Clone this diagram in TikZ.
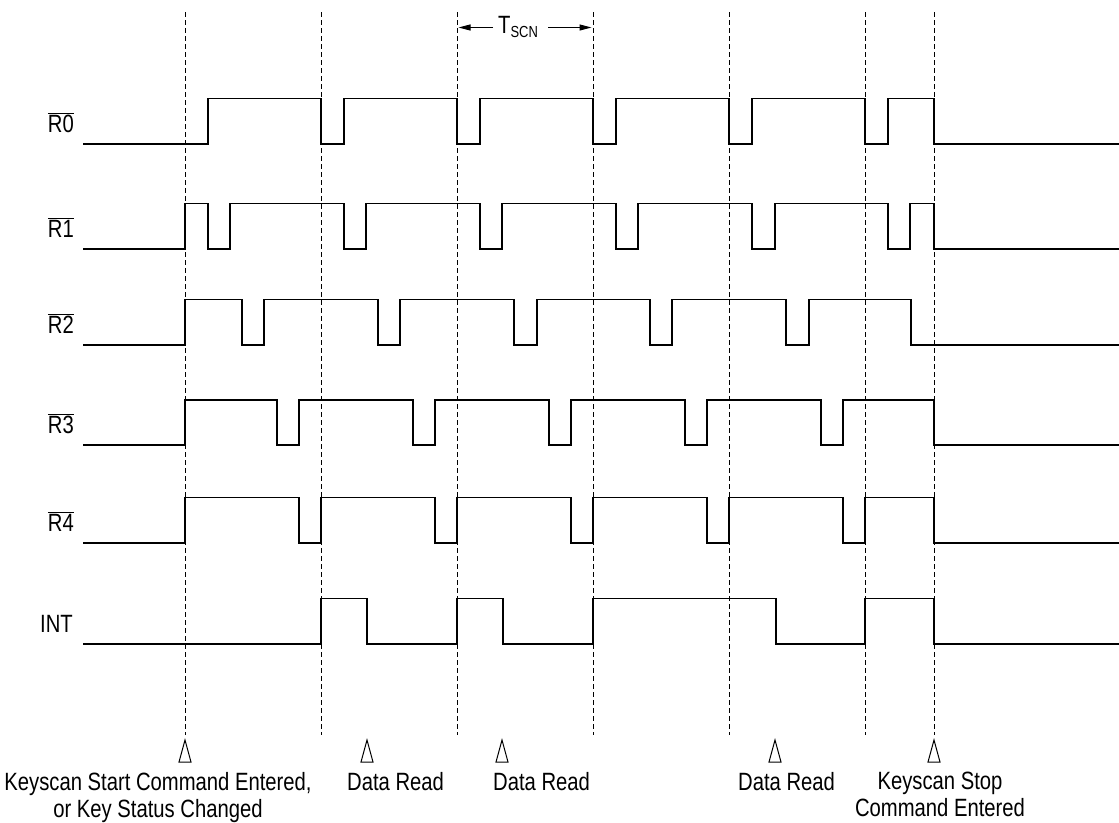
\documentclass[tikz,border=0pt]{standalone}
\usepackage{fontspec}
\setmainfont{Liberation Sans}[FakeStretch=0.81]
\usetikzlibrary{arrows.meta}
\newcommand{\barsig}[1]{$\overline{\mbox{#1}}$}
\begin{document}
\begin{tikzpicture}[x=1pt,y=-1pt,
  sig/.style={line width=1.4pt, line join=miter},
  guide/.style={line width=0.9pt, dash pattern=on 4.5pt off 3.5pt},
  lbl/.style={font=\fontsize{25}{27}\selectfont, inner sep=0pt},
  tri/.style={line width=1pt, line join=miter},
  tarrow/.style={line width=1pt, -{Triangle[length=12pt,width=6pt]}}
]
\useasboundingbox (0,0) rectangle (1119,822);

% guide lines
\foreach \x in {185,321,457,593,729,865,934}
  \draw[guide] (\x,12) -- (\x,735);

% T_SCN
\coordinate (tl) at (458.5,27.5);
\coordinate (tr) at (591.5,27.5);
\node[lbl, anchor=base west, inner xsep=5pt] (tscn) at (493,33)
  {T\raisebox{-4pt}{\fontsize{16}{16}\selectfont SCN}\hspace*{5pt}};
\draw[tarrow] (tscn.west |- tl) -- (tl);
\draw[tarrow] (tscn.east |- tr) -- (tr);

% signal labels
\node[lbl, anchor=base east] (lr0) at (74,132) {\barsig{R0}};
\node[lbl, anchor=base east] (lr1) at (74,237) {\barsig{R1}};
\node[lbl, anchor=base east] (lr2) at (74,333) {\barsig{R2}};
\node[lbl, anchor=base east] (lr3) at (74,433) {\barsig{R3}};
\node[lbl, anchor=base east] (lr4) at (74,531) {\barsig{R4}};
\node[lbl, anchor=base east] (lint) at (73,632) {INT};

% R0
\draw[sig] (83,144) -| (208,98.5) -| (321,144) -| (344,98.5) -| (457,144) -| (480,98.5)
  -| (593,144) -| (616,98.5) -| (729,144) -| (752,98.5) -| (865,144) -| (888,98.5)
  -| (934,144) -- (1119,144);
% R1
\draw[sig] (83,249) -| (185,203.5) -| (208,249) -| (230,203.5) -| (344,249) -| (366,203.5)
  -| (480,249) -| (502,203.5) -| (616,249) -| (638,203.5) -| (752,249) -| (775,203.5)
  -| (888,249) -| (910,203.5) -| (934,249) -- (1119,249);
% R2
\draw[sig] (83,345) -| (185,299.5) -| (242,345) -| (264,299.5) -| (378,345) -| (400,299.5)
  -| (514,345) -| (537,299.5) -| (650,345) -| (672,299.5) -| (786,345) -| (809,299.5)
  -| (911,345) -- (1119,345);
% R3
\draw[sig] (83,445) -| (185,400) -| (277,445) -| (299,400) -| (413,445) -| (435,400)
  -| (549,445) -| (571,400) -| (685,445) -| (707,400) -| (821,445) -| (843,400)
  -| (934,445) -- (1119,445);
% R4
\draw[sig] (83,543) -| (185,497.5) -| (299,543) -| (321,497.5) -| (435,543) -| (457,497.5)
  -| (571,543) -| (593,497.5) -| (707,543) -| (729,497.5) -| (843,543) -| (865,497.5)
  -| (934,543) -- (1119,543);
% INT
\draw[sig] (83,644) -| (321,598.5) -| (367,644) -| (457,598.5) -| (503,644) -| (593,598.5)
  -| (776,644) -| (865,598.5) -| (934,644) -- (1119,644);

% event markers
\foreach \x in {185,367,502,775,934}
  \draw[tri] (\x,740) -- ++(-6,22) -- ++(12,0) -- cycle;

% event labels
\node[lbl, anchor=north, align=center] (evstart) at (158,772)
  {Keyscan Start Command Entered,\\or Key Status Changed};
\node[lbl, anchor=base west] (evread1) at (347,790) {Data Read};
\node[lbl, anchor=base west] (evread2) at (493,790) {Data Read};
\node[lbl, anchor=base west] (evread3) at (738,790) {Data Read};
\node[lbl, anchor=north, align=center] (evstop) at (940,772)
  {Keyscan Stop\\Command Entered};
\end{tikzpicture}
\end{document}
